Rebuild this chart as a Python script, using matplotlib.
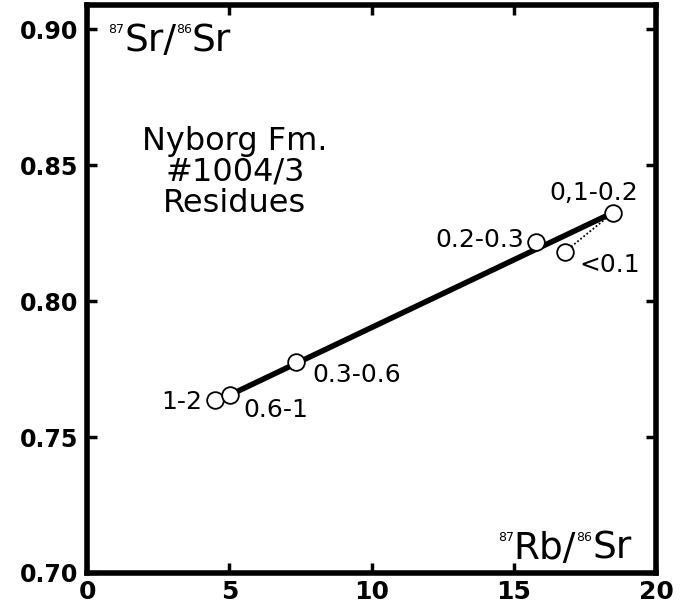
import matplotlib
matplotlib.use('Agg')
from matplotlib import pyplot as plt
from matplotlib.ticker import FormatStrFormatter

# size fractions (µm) of the residues and their isotope ratios
fractions = ['1-2', '0.6-1', '0.3-0.6', '0.2-0.3', '<0.1', '0,1-0.2']
rb_sr = [4.51, 5.04, 7.36, 15.77, 16.80, 18.49]
sr_sr = [0.7637, 0.7656, 0.7777, 0.8219, 0.8182, 0.8326]

x_ticks = [0, 5, 10, 15, 20]
y_ticks = [0.70, 0.75, 0.80, 0.85, 0.90]

# label placement: offset in pixels from the point, horizontal alignment
label_pos = [(-13, -9, 'right'), (13, -22, 'left'), (16, -20, 'left'),
             (-12, -5, 'right'), (14, -20, 'left'), (-19, 13, 'center')]


def rainbow(ax, x, y, pieces):
    # pieces of text of different sizes, tops aligned, written left to right
    t = ax.text(x, y, pieces[0][0], fontsize=pieces[0][1], va='top', ha='left',
                transform=ax.transAxes)
    for s, size in pieces[1:]:
        t = ax.annotate(s, xy=(1, 1), xycoords=t, va='top', ha='left', fontsize=size)
    return t


fig = plt.figure(figsize=(6.89, 6.10), dpi=100)
ax = fig.add_axes([0.1263, 0.0607, 0.8258, 0.9311])

# isochron through the 0.6-1 and 0,1-0.2 fractions
ax.plot([rb_sr[1], rb_sr[5]], [sr_sr[1], sr_sr[5]], color='black', lw=4,
        solid_capstyle='butt', zorder=2)
# dotted tie between <0.1 and 0,1-0.2
ax.plot([rb_sr[4], rb_sr[5]], [sr_sr[4], sr_sr[5]], color='black', lw=1.3,
        ls=(0, (1, 1.2)), zorder=2)
ax.plot(rb_sr, sr_sr, 'o', ms=12, mfc='white', mec='black', mew=1.3, zorder=3)

for lab, x, y, (dx, dy, ha) in zip(fractions, rb_sr, sr_sr, label_pos):
    ax.annotate(lab, (x, y), xytext=(dx, dy), textcoords='offset pixels',
                ha=ha, va='baseline', fontsize=18)

ax.text(0.26, 0.787, 'Nyborg Fm.\n#1004/3\nResidues', transform=ax.transAxes,
        ha='center', va='top', multialignment='center', fontsize=23, linespacing=1.0)

rainbow(ax, 0.037, 0.968, [('87', 9), ('Sr/', 27), ('86', 9), ('Sr', 27)])
rainbow(ax, 0.722, 0.074, [('87', 9), ('Rb/', 27), ('86', 9), ('Sr', 27)])

ax.set_xlim(0, 20)
ax.set_ylim(0.70, 0.909)
ax.set_xticks(x_ticks)
ax.set_yticks(y_ticks)
ax.yaxis.set_major_formatter(FormatStrFormatter('%.2f'))
ax.tick_params(direction='in', length=7, width=2.5, top=True, right=True)
ax.tick_params(axis='x', pad=5, labelsize=18)
ax.tick_params(axis='y', pad=6.5, labelsize=17)
for lab in ax.get_xticklabels() + ax.get_yticklabels():
    lab.set_fontweight('bold')
for sp in ax.spines.values():
    sp.set_linewidth(4)

fig.savefig('out.png', dpi=100)
